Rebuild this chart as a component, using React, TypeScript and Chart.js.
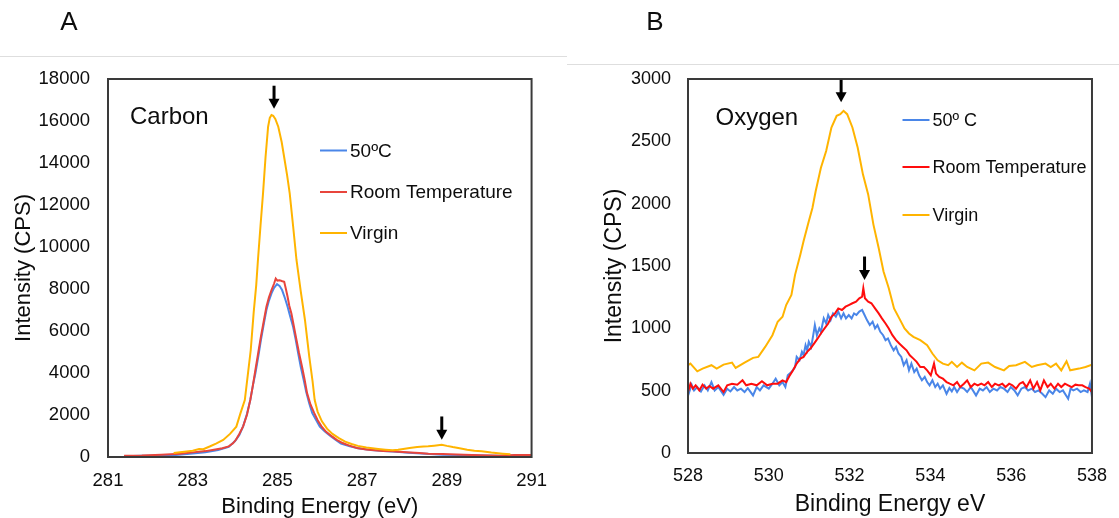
import React, { useEffect, useRef } from "react";
import { Chart, registerables } from "chart.js";

Chart.register(...registerables);

const FONT = "'Liberation Sans', Arial, Helvetica, sans-serif";
const INK = "#0d0d0d";

// ---------- Panel A: Carbon ----------
const cXTicks = [281, 283, 285, 287, 289, 291];
const cYTicks = [0, 2000, 4000, 6000, 8000, 10000, 12000, 14000, 16000, 18000];
const cLabels = ["50ºC", "Room Temperature", "Virgin"];

const c50C = [
  [281.38, 40], [281.8, 60], [282.2, 70], [282.6, 100], [283.0, 170], [283.3, 230], [283.6, 330],
  [283.85, 480], [284.0, 760], [284.1, 1050], [284.19, 1460], [284.28, 2050], [284.36, 2720],
  [284.42, 3400], [284.48, 3990], [284.55, 4800], [284.61, 5570], [284.68, 6350], [284.74, 7000],
  [284.8, 7450], [284.86, 7790], [284.92, 8050], [284.99, 8230], [285.05, 8150], [285.11, 7950],
  [285.18, 7550], [285.24, 7155], [285.3, 6700], [285.37, 6200], [285.43, 5600], [285.49, 4940],
  [285.55, 4300], [285.62, 3670], [285.68, 3100], [285.75, 2560], [285.82, 2100], [285.91, 1770],
  [286.0, 1450], [286.12, 1220], [286.25, 1000], [286.37, 820], [286.5, 640], [286.71, 505],
  [286.9, 420], [287.2, 330], [287.5, 280], [287.8, 250], [288.1, 200], [288.5, 150], [288.9, 110],
  [289.3, 90], [289.8, 70], [290.3, 60], [290.7, 70], [291.0, 80],
];

const cRoom = [
  [281.38, 60], [281.8, 70], [282.26, 110], [282.7, 150], [283.0, 220], [283.3, 280], [283.5, 350],
  [283.7, 420], [283.85, 505], [283.95, 650], [284.02, 820], [284.1, 1100], [284.19, 1460],
  [284.28, 2000], [284.36, 2720], [284.42, 3400], [284.48, 4150], [284.55, 5000], [284.61, 5730],
  [284.68, 6500], [284.74, 7155], [284.8, 7600], [284.86, 7950], [284.92, 8250], [284.96, 8500],
  [285.0, 8400], [285.05, 8420], [285.1, 8380], [285.16, 8340], [285.2, 8000], [285.24, 7630],
  [285.28, 7200], [285.33, 6840], [285.39, 6200], [285.45, 5570], [285.51, 4950], [285.58, 4310],
  [285.64, 3700], [285.7, 3040], [285.78, 2500], [285.87, 2090], [285.95, 1750], [286.04, 1460],
  [286.15, 1200], [286.29, 980], [286.4, 820], [286.54, 665], [286.7, 540], [286.88, 430],
  [287.1, 360], [287.3, 316], [287.5, 290], [287.72, 270], [287.95, 240], [288.14, 220],
  [288.35, 190], [288.56, 160], [288.9, 140], [289.4, 110], [289.8, 80], [290.24, 60], [290.6, 90],
  [291.0, 95],
];

const cVirgin = [
  [282.55, 190], [282.8, 250], [283.0, 300], [283.15, 380], [283.25, 370], [283.4, 500],
  [283.55, 640], [283.72, 810], [283.88, 1100], [284.03, 1445], [284.13, 2100], [284.23, 2714],
  [284.3, 3900], [284.37, 5095], [284.44, 6900], [284.5, 8200], [284.54, 9381], [284.6, 11000],
  [284.66, 12557], [284.72, 14300], [284.78, 15729], [284.82, 16150], [284.86, 16286],
  [284.9, 16250], [284.95, 16100], [285.02, 15729], [285.1, 15000], [285.17, 14143],
  [285.23, 13400], [285.29, 12557], [285.37, 11000], [285.45, 9381], [285.55, 7900],
  [285.65, 6524], [285.75, 4800], [285.83, 3600], [285.88, 2714], [285.95, 2150], [286.05, 1700],
  [286.17, 1350], [286.3, 1100], [286.45, 900], [286.6, 730], [286.75, 620], [286.9, 530],
  [287.1, 450], [287.38, 380], [287.55, 345], [287.72, 316], [287.85, 340], [287.97, 380],
  [288.12, 430], [288.3, 475], [288.45, 500], [288.56, 510], [288.7, 540], [288.88, 585],
  [289.0, 530], [289.14, 475], [289.3, 420], [289.48, 350], [289.65, 300], [289.82, 270],
  [290.05, 210], [290.32, 160], [290.5, 130],
];

// arrows: [energy, intensity at top of shaft, intensity at tip]
const cArrows = [
  [284.92, 17680, 16580],
  [288.88, 1930, 820],
];

// ---------- Panel B: Oxygen ----------
const oXTicks = [528, 530, 532, 534, 536, 538];
const oYTicks = [0, 500, 1000, 1500, 2000, 2500, 3000];
const oLabels = ["50º C", "Room Temperature", "Virgin"];

const oVirgin = [
  [528.0, 704], [528.06, 717], [528.23, 655], [528.36, 677], [528.58, 704], [528.71, 677],
  [528.88, 709], [529.09, 725], [529.18, 682], [529.4, 725], [529.61, 763], [529.74, 771],
  [529.91, 851], [530.09, 945], [530.22, 1053], [530.34, 1093], [530.43, 1187], [530.56, 1268],
  [530.65, 1429], [530.78, 1590], [530.86, 1698], [530.99, 1859], [531.08, 1966], [531.16, 2100],
  [531.29, 2288], [531.42, 2423], [531.55, 2611], [531.68, 2705], [531.77, 2718], [531.85, 2745],
  [531.94, 2718], [532.07, 2611], [532.2, 2450], [532.33, 2235], [532.46, 2074], [532.59, 1832],
  [532.72, 1644], [532.84, 1456], [532.97, 1322], [533.1, 1160], [533.23, 1080], [533.36, 999],
  [533.47, 959], [533.58, 932], [533.75, 905], [533.92, 865], [534.05, 798], [534.18, 744],
  [534.31, 717], [534.44, 704], [534.53, 731], [534.66, 690], [534.78, 725], [534.91, 690],
  [535.09, 663], [535.26, 717], [535.43, 725], [535.6, 690], [535.82, 663], [535.95, 698],
  [536.12, 704], [536.34, 731], [536.51, 690], [536.64, 704], [536.85, 717], [536.98, 690],
  [537.11, 717], [537.24, 663], [537.37, 736], [537.46, 663], [537.68, 677], [537.84, 690],
  [538.0, 709],
];

const oRoom = [
  [528.0, 489], [528.06, 556], [528.12, 516], [528.19, 543], [528.28, 502], [528.36, 548],
  [528.45, 516], [528.53, 537], [528.62, 516], [528.75, 543], [528.88, 489], [528.97, 543],
  [529.09, 556], [529.22, 548], [529.35, 583], [529.44, 543], [529.57, 556], [529.7, 543],
  [529.83, 575], [529.96, 543], [530.09, 556], [530.22, 556], [530.34, 583], [530.43, 569],
  [530.52, 623], [530.6, 663], [530.69, 717], [530.78, 757], [530.86, 771], [530.95, 811],
  [531.03, 838], [531.12, 878], [531.21, 919], [531.29, 959], [531.38, 999], [531.47, 1039],
  [531.55, 1093], [531.64, 1120], [531.72, 1160], [531.81, 1147], [531.9, 1174], [531.98, 1187],
  [532.07, 1201], [532.16, 1214], [532.24, 1241], [532.31, 1254], [532.34, 1322], [532.38, 1241],
  [532.46, 1214], [532.54, 1201], [532.63, 1160], [532.72, 1120], [532.8, 1080], [532.89, 1039],
  [532.97, 999], [533.06, 945], [533.15, 905], [533.23, 878], [533.32, 851], [533.41, 824],
  [533.49, 784], [533.58, 757], [533.66, 731], [533.75, 690], [533.84, 690], [533.92, 663],
  [534.01, 623], [534.09, 717], [534.14, 637], [534.22, 610], [534.31, 596], [534.4, 569],
  [534.48, 556], [534.57, 543], [534.66, 569], [534.74, 529], [534.83, 556], [534.91, 583],
  [535.0, 529], [535.09, 556], [535.17, 543], [535.26, 556], [535.34, 543], [535.43, 569],
  [535.52, 529], [535.6, 556], [535.69, 543], [535.78, 556], [535.86, 529], [535.95, 556],
  [536.03, 543], [536.12, 516], [536.21, 556], [536.29, 569], [536.38, 529], [536.47, 583],
  [536.55, 516], [536.64, 569], [536.72, 502], [536.81, 583], [536.9, 529], [536.98, 556],
  [537.07, 516], [537.16, 556], [537.24, 529], [537.33, 556], [537.41, 543], [537.5, 529],
  [537.59, 548], [537.67, 543], [537.76, 543], [537.84, 529], [537.93, 516], [538.0, 489],
];

const o50C = [
  [528.0, 529], [528.03, 489], [528.09, 548], [528.15, 502], [528.23, 529], [528.32, 494],
  [528.41, 543], [528.49, 502], [528.58, 569], [528.66, 502], [528.75, 529], [528.88, 467],
  [528.97, 516], [529.05, 494], [529.14, 529], [529.22, 502], [529.31, 516], [529.4, 489],
  [529.48, 521], [529.61, 462], [529.7, 529], [529.78, 502], [529.87, 543], [530.0, 516],
  [530.09, 556], [530.17, 596], [530.26, 543], [530.34, 569], [530.41, 529], [530.47, 623],
  [530.56, 650], [530.65, 690], [530.69, 771], [530.76, 744], [530.82, 811], [530.86, 784],
  [530.91, 865], [530.95, 824], [530.99, 892], [531.05, 851], [531.1, 945], [531.14, 1026],
  [531.19, 945], [531.25, 999], [531.29, 972], [531.36, 1080], [531.42, 1039], [531.47, 1107],
  [531.53, 1066], [531.59, 1120], [531.66, 1093], [531.72, 1134], [531.79, 1080], [531.85, 1120],
  [531.91, 1080], [531.98, 1107], [532.05, 1080], [532.11, 1120], [532.17, 1107], [532.24, 1134],
  [532.31, 1147], [532.37, 1107], [532.43, 1066], [532.5, 1026], [532.57, 1053], [532.63, 999],
  [532.69, 1026], [532.76, 972], [532.83, 945], [532.89, 905], [532.95, 919], [533.02, 865],
  [533.09, 824], [533.15, 851], [533.21, 798], [533.28, 771], [533.34, 704], [533.41, 744],
  [533.47, 663], [533.53, 717], [533.6, 650], [533.66, 677], [533.72, 623], [533.79, 583],
  [533.86, 610], [533.92, 569], [533.98, 543], [534.05, 583], [534.12, 529], [534.18, 556],
  [534.24, 516], [534.31, 543], [534.4, 475], [534.47, 521], [534.53, 494], [534.59, 529],
  [534.66, 489], [534.74, 529], [534.83, 516], [534.91, 489], [535.0, 529], [535.13, 462],
  [535.22, 516], [535.3, 502], [535.39, 529], [535.47, 489], [535.56, 516], [535.65, 502],
  [535.73, 529], [535.82, 516], [535.91, 489], [535.99, 529], [536.08, 502], [536.16, 462],
  [536.25, 516], [536.34, 529], [536.42, 502], [536.51, 516], [536.59, 489], [536.68, 502],
  [536.77, 475], [536.85, 448], [536.94, 502], [537.03, 475], [537.11, 516], [537.2, 489],
  [537.28, 502], [537.41, 435], [537.47, 516], [537.54, 502], [537.63, 516], [537.72, 489],
  [537.8, 502], [537.89, 489], [537.95, 556], [538.0, 448],
];

const oArrows = [
  [531.79, 2993, 2813],
  [532.37, 1576, 1387],
];

// ---------- helpers ----------
const toPts = (pairs: number[][]) => pairs.map(([x, y]) => ({ x, y }));

type Spec = {
  width: number;
  plot: { left: number; top: number; right: number; bottom: number };
  xMin: number; xMax: number; xTicks: number[];
  yMin: number; yMax: number; yTicks: number[];
  tickSize: number; xTickPad: number; yTickPad: number;
  xTitle: string; xTitleSize: number; xTitlePad: number;
  yTitle: string; yTitleSize: number; yTitlePad: number;
  series: { label: string; data: number[][]; color: string }[];
  labels: string[];
  colors: string[];
  name: string; nameDx: number; nameDy: number;
  legDx: number; legRows: number[]; legSize: number;
  arrows: number[][];
  letter: string; letterX: number; letterY: number;
  seps: number[][];
};

function overlay(spec: Spec) {
  return {
    id: "overlay",
    afterDraw(chart: any) {
      const ctx = chart.ctx;
      const ca = chart.chartArea;
      const xs = chart.scales.x;
      const ys = chart.scales.y;
      ctx.save();
      // separator lines
      ctx.strokeStyle = "#dedede";
      ctx.lineWidth = 1;
      for (const [x1, x2, y] of spec.seps) {
        ctx.beginPath();
        ctx.moveTo(x1, y + 0.5);
        ctx.lineTo(x2, y + 0.5);
        ctx.stroke();
      }
      // panel letter
      ctx.fillStyle = INK;
      ctx.font = `26px ${FONT}`;
      ctx.textAlign = "center";
      ctx.textBaseline = "middle";
      ctx.fillText(spec.letter, spec.letterX, spec.letterY);
      // frame
      ctx.strokeStyle = "#3a3a3a";
      ctx.lineWidth = 2;
      ctx.strokeRect(ca.left, ca.top, ca.right - ca.left, ca.bottom - ca.top);
      // element name
      ctx.font = `24px ${FONT}`;
      ctx.textAlign = "left";
      ctx.fillText(spec.name, ca.left + spec.nameDx, ca.top + spec.nameDy);
      // legend
      ctx.font = `${spec.legSize}px ${FONT}`;
      spec.labels.forEach((lab, i) => {
        const y = ca.top + spec.legRows[i];
        ctx.strokeStyle = spec.colors[i];
        ctx.lineWidth = 2;
        ctx.beginPath();
        ctx.moveTo(ca.left + spec.legDx, y);
        ctx.lineTo(ca.left + spec.legDx + 27, y);
        ctx.stroke();
        ctx.fillStyle = INK;
        ctx.fillText(lab, ca.left + spec.legDx + 30, y + 1);
      });
      // arrows
      ctx.fillStyle = "#000";
      ctx.strokeStyle = "#000";
      for (const [e, top, tip] of spec.arrows) {
        const px = xs.getPixelForValue(e);
        const y1 = ys.getPixelForValue(top);
        const y2 = ys.getPixelForValue(tip);
        ctx.lineWidth = 3;
        ctx.beginPath();
        ctx.moveTo(px, y1);
        ctx.lineTo(px, y2 - 7);
        ctx.stroke();
        ctx.beginPath();
        ctx.moveTo(px - 5.5, y2 - 10);
        ctx.lineTo(px + 5.5, y2 - 10);
        ctx.lineTo(px, y2);
        ctx.closePath();
        ctx.fill();
      }
      ctx.restore();
    },
  };
}

function buildConfig(spec: Spec): any {
  const H = 518;
  return {
    type: "line",
    data: {
      datasets: spec.series.map((s) => ({
        label: s.label,
        data: toPts(s.data),
        borderColor: s.color,
        backgroundColor: s.color,
        borderWidth: 2,
        pointRadius: 0,
        tension: 0,
        fill: false,
      })),
    },
    options: {
      responsive: false,
      animation: false,
      events: [],
      layout: {
        padding: { top: spec.plot.top, left: 0, right: spec.width - spec.plot.right, bottom: 0 },
      },
      plugins: { legend: { display: false }, tooltip: { enabled: false }, title: { display: false } },
      scales: {
        x: {
          type: "linear",
          min: spec.xMin,
          max: spec.xMax,
          afterBuildTicks: (s: any) => {
            s.ticks = spec.xTicks.map((v) => ({ value: v }));
          },
          afterFit: (s: any) => {
            s.height = H - spec.plot.bottom;
          },
          grid: { display: false, drawTicks: false, tickLength: 0 },
          border: { display: false },
          ticks: {
            padding: spec.xTickPad,
            color: INK,
            maxRotation: 0,
            autoSkip: false,
            font: { family: FONT, size: spec.tickSize },
            callback: (v: any) => String(v),
          },
          title: {
            display: true,
            text: spec.xTitle,
            color: INK,
            font: { family: FONT, size: spec.xTitleSize },
            padding: { top: 0, bottom: spec.xTitlePad },
          },
        },
        y: {
          type: "linear",
          min: spec.yMin,
          max: spec.yMax,
          afterBuildTicks: (s: any) => {
            s.ticks = spec.yTicks.map((v) => ({ value: v }));
          },
          afterFit: (s: any) => {
            s.width = spec.plot.left;
          },
          grid: { display: false, drawTicks: false, tickLength: 0 },
          border: { display: false },
          ticks: {
            padding: spec.yTickPad,
            color: INK,
            autoSkip: false,
            font: { family: FONT, size: spec.tickSize },
            callback: (v: any) => String(v),
          },
          title: {
            display: true,
            text: spec.yTitle,
            color: INK,
            font: { family: FONT, size: spec.yTitleSize },
            padding: { top: spec.yTitlePad, bottom: 0 },
          },
        },
      },
    },
    plugins: [overlay(spec)],
  };
}

const BLUE = "#4a86e8";
const GOLD = "#ffb400";

const carbonSpec: Spec = {
  width: 560,
  plot: { left: 108, top: 79, right: 532, bottom: 457 },
  xMin: 281, xMax: 291, xTicks: cXTicks,
  yMin: 0, yMax: 18000, yTicks: cYTicks,
  tickSize: 18.5, xTickPad: 13, yTickPad: 18,
  xTitle: "Binding Energy (eV)", xTitleSize: 22, xTitlePad: -2,
  yTitle: "Intensity (CPS)", yTitleSize: 22, yTitlePad: 11,
  series: [
    { label: cLabels[2], data: cVirgin, color: GOLD },
    { label: cLabels[1], data: cRoom, color: "#e8453c" },
    { label: cLabels[0], data: c50C, color: BLUE },
  ],
  labels: cLabels,
  colors: [BLUE, "#e8453c", GOLD],
  name: "Carbon", nameDx: 22, nameDy: 38,
  legDx: 212, legRows: [71.5, 113, 154], legSize: 19,
  arrows: cArrows,
  letter: "A", letterX: 69, letterY: 23,
  seps: [[0, 560, 56]],
};

const oxygenSpec: Spec = {
  width: 559,
  plot: { left: 128, top: 79, right: 541, bottom: 453 },
  xMin: 528, xMax: 538, xTicks: oXTicks,
  yMin: 0, yMax: 3000, yTicks: oYTicks,
  tickSize: 18, xTickPad: 12, yTickPad: 17,
  xTitle: "Binding Energy eV", xTitleSize: 23, xTitlePad: 0,
  yTitle: "Intensity (CPS)", yTitleSize: 23, yTitlePad: 41,
  series: [
    { label: oLabels[2], data: oVirgin, color: GOLD },
    { label: oLabels[1], data: oRoom, color: "#ff0d0d" },
    { label: oLabels[0], data: o50C, color: BLUE },
  ],
  labels: oLabels,
  colors: [BLUE, "#ff0d0d", GOLD],
  name: "Oxygen", nameDx: 27.5, nameDy: 39,
  legDx: 214.5, legRows: [41, 88, 136], legSize: 18,
  arrows: oArrows,
  letter: "B", letterX: 95, letterY: 23,
  seps: [[0, 7, 56], [7, 559, 64]],
};

function Panel({ spec, left }: { spec: Spec; left: number }) {
  const ref = useRef<HTMLCanvasElement | null>(null);
  useEffect(() => {
    if (!ref.current) return;
    const chart = new Chart(ref.current, buildConfig(spec));
    return () => chart.destroy();
  }, [spec]);
  return (
    <div style={{ position: "absolute", left, top: 0, width: spec.width, height: 518 }}>
      <canvas ref={ref} width={spec.width} height={518} style={{ display: "block" }} />
    </div>
  );
}

export default function App() {
  return (
    <div
      style={{
        position: "absolute",
        left: 0,
        top: 0,
        width: 1119,
        height: 518,
        background: "#ffffff",
        overflow: "hidden",
      }}
    >
      <Panel spec={carbonSpec} left={0} />
      <Panel spec={oxygenSpec} left={560} />
    </div>
  );
}
